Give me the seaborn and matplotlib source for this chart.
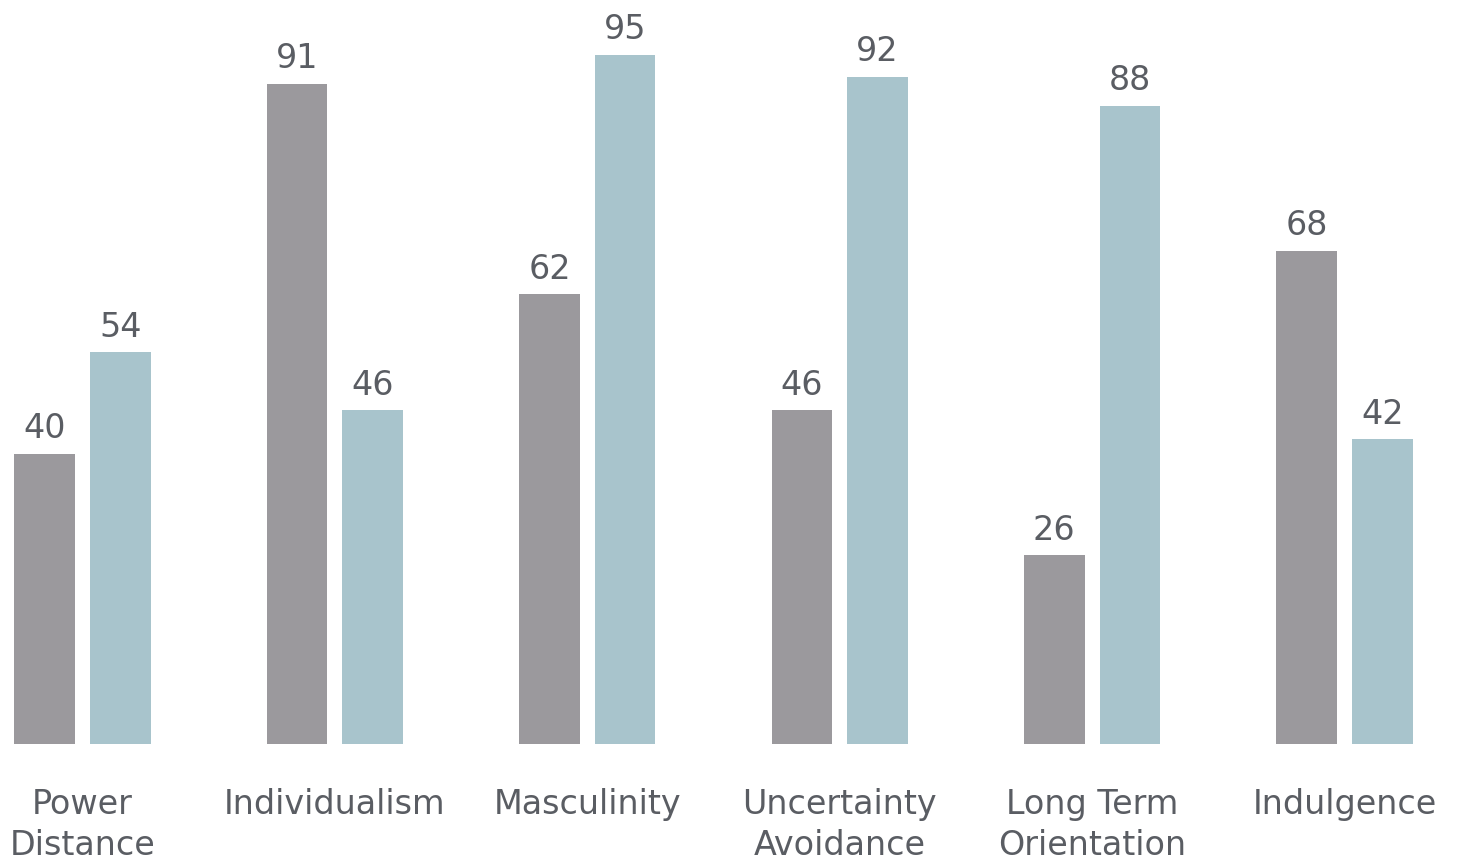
import matplotlib
matplotlib.use("Agg")
import matplotlib.pyplot as plt
import seaborn as sns
import pandas as pd

categories = ["Power\nDistance", "Individualism", "Masculinity",
              "Uncertainty\nAvoidance", "Long Term\nOrientation", "Indulgence"]
series_names = ["Country A", "Country B"]
values_a = [40, 91, 62, 46, 26, 68]
values_b = [54, 46, 95, 92, 88, 42]
colors = ["#9b999d", "#a8c4cc"]

df = pd.DataFrame({
    "category": categories * 2,
    "series": [series_names[0]] * len(categories) + [series_names[1]] * len(categories),
    "value": values_a + values_b,
})

sns.set_theme(style="white")
plt.rcParams["font.family"] = ["DejaVu Sans"]

W, H = 1460, 862
fig = plt.figure(figsize=(W / 100, H / 100), dpi=100)
bottom_px = 117
ax = fig.add_axes([0, bottom_px / H, 1, (H - bottom_px) / H])

sns.barplot(data=df, x="category", y="value", hue="series", order=categories,
            hue_order=series_names, palette=colors, width=0.6, gap=0.2,
            saturation=1, legend=False, linewidth=0, ax=ax)

px_per_unit = 7.253
ax.set_ylim(0, (H - bottom_px) / px_per_unit)
ax.set_xlim(-82.5 / 252.4, (W - 82.5) / 252.4)

text_color = "#5a5d63"
for cont in ax.containers:
    ax.bar_label(cont, padding=7, fontsize=24, color=text_color)

ax.set_xlabel("")
ax.set_ylabel("")
ax.set_yticks([])
ax.tick_params(axis="x", length=0, pad=31, labelsize=24, labelcolor=text_color)
for lab in ax.get_xticklabels():
    lab.set_linespacing(1.3)
for s in ax.spines.values():
    s.set_visible(False)

fig.savefig("out.png", dpi=100, facecolor="white")
